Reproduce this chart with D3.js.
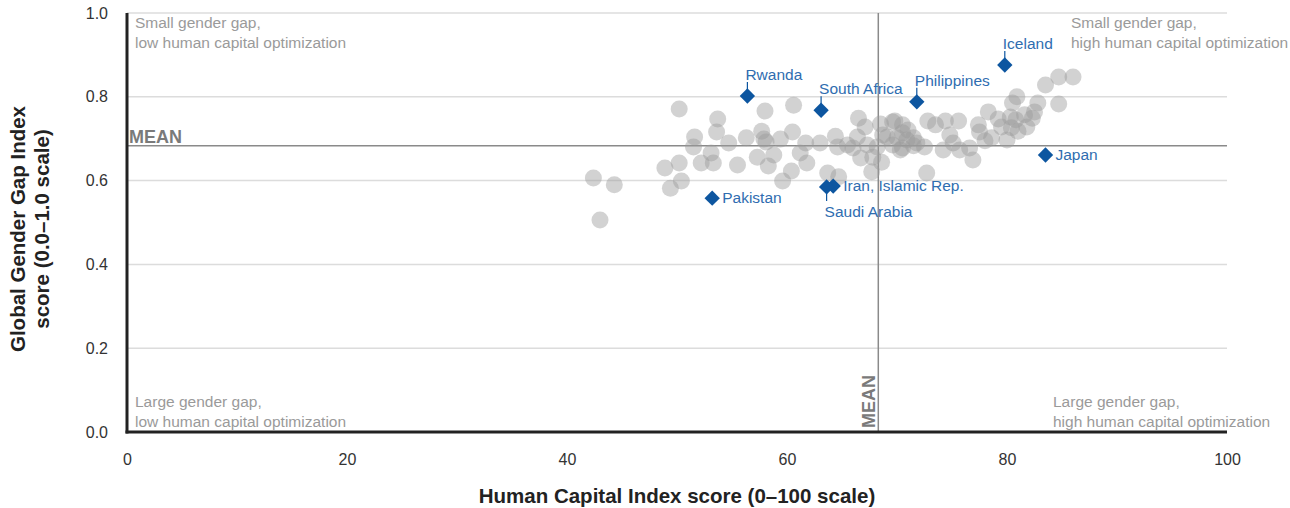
<!DOCTYPE html>
<html lang="en">
<head>
<meta charset="utf-8" />
<title>Human capital vs gender gap</title>
<script src="https://cdn.jsdelivr.net/npm/d3@7"></script>
<style>
  body { margin: 0; background: #fff; }
  svg { font-family: "Liberation Sans", Arial, sans-serif; }
</style>
</head>
<body>
<svg width="1290" height="508"></svg>
<script>
// Human Capital Index score (x) and Global Gender Gap Index score (y) for every country
var hciScores = [42.4, 44.3, 43.0, 50.2, 48.9, 50.2, 49.4, 50.4, 51.6, 51.5,
                 52.2, 53.1, 53.3, 53.7, 53.6, 54.7, 55.5, 56.3, 58.0, 57.7,
                 57.9, 58.1, 57.3, 58.3, 58.8, 59.4, 60.6, 60.5, 60.4, 59.6,
                 61.7, 61.2, 61.8, 63.0, 63.7, 64.7, 64.4, 64.6, 65.5, 66.0,
                 66.5, 66.4, 66.7, 67.1, 67.7, 68.2, 67.8, 68.6, 68.5, 69.6,
                 69.8, 70.5, 71.0, 69.1, 70.0, 70.5, 70.9, 71.5, 70.3, 71.5,
                 72.5, 72.8, 73.5, 74.4, 75.6, 74.8, 75.1, 74.2, 75.7, 76.6,
                 76.9, 77.4, 77.5, 78.0, 78.3, 78.6, 79.2, 79.5, 80.0, 80.3,
                 80.4, 80.9, 80.5, 80.8, 81.0, 81.6, 81.8, 82.3, 82.5, 82.8,
                 83.5, 84.7, 86.0, 84.7, 72.7, 69.6, 68.7, 70.5, 71.8, 67.3];
var gggScores = [0.606, 0.590, 0.506, 0.771, 0.630, 0.642, 0.582, 0.599, 0.704, 0.680,
                 0.642, 0.666, 0.642, 0.747, 0.716, 0.690, 0.637, 0.702, 0.766, 0.718,
                 0.699, 0.692, 0.656, 0.635, 0.661, 0.699, 0.780, 0.716, 0.623, 0.599,
                 0.690, 0.666, 0.642, 0.690, 0.618, 0.609, 0.706, 0.680, 0.685, 0.678,
                 0.749, 0.704, 0.654, 0.728, 0.621, 0.680, 0.656, 0.644, 0.735, 0.740,
                 0.742, 0.733, 0.721, 0.704, 0.702, 0.714, 0.697, 0.702, 0.673, 0.683,
                 0.680, 0.742, 0.733, 0.742, 0.742, 0.709, 0.690, 0.673, 0.673, 0.678,
                 0.649, 0.733, 0.716, 0.695, 0.764, 0.702, 0.747, 0.728, 0.697, 0.752,
                 0.726, 0.800, 0.785, 0.745, 0.718, 0.757, 0.728, 0.749, 0.764, 0.785,
                 0.828, 0.847, 0.847, 0.783, 0.618, 0.685, 0.709, 0.678, 0.690, 0.685];

// highlighted countries
var hlNames = ['Rwanda', 'South Africa', 'Philippines', 'Iceland', 'Japan', 'Pakistan', 'Iran, Islamic Rep.', 'Saudi Arabia'];
var hlHci   = [56.4, 63.1, 71.8, 79.8, 83.5, 53.2, 64.2, 63.6];
var hlGgg   = [0.802, 0.768, 0.788, 0.876, 0.661, 0.558, 0.587, 0.585];
var hlLabelSide = ['top', 'top', 'top', 'top', 'right', 'right', 'right', 'bottom'];

var meanHci = 68.3;
var meanGgg = 0.683;

var xTicks = [0, 20, 40, 60, 80, 100];
var yTicks = [0, 0.2, 0.4, 0.6, 0.8, 1.0];

var quadrantLabels = [
    ['Small gender gap,', 'low human capital optimization'],
    ['Small gender gap,', 'high human capital optimization'],
    ['Large gender gap,', 'low human capital optimization'],
    ['Large gender gap,', 'high human capital optimization']
];

var svg = d3.select('svg');

var x = d3.scaleLinear().domain([0, 100]).range([127, 1227]);
var y = d3.scaleLinear().domain([0, 1]).range([432, 13]);

// gridlines
svg.append('g')
    .selectAll('line')
    .data(yTicks.filter(function(d) { return d > 0; }))
    .enter().append('line')
    .attr('x1', x(0)).attr('x2', x(100))
    .attr('y1', function(d) { return y(d); })
    .attr('y2', function(d) { return y(d); })
    .attr('stroke', '#dcdcdc')
    .attr('stroke-width', 1.5);

// mean lines
svg.append('line')
    .attr('x1', x(0)).attr('x2', x(100))
    .attr('y1', y(meanGgg)).attr('y2', y(meanGgg))
    .attr('stroke', '#8a8a8a').attr('stroke-width', 1.5);
svg.append('line')
    .attr('x1', x(meanHci)).attr('x2', x(meanHci))
    .attr('y1', y(1)).attr('y2', y(0))
    .attr('stroke', '#8a8a8a').attr('stroke-width', 1.5);

svg.append('text')
    .attr('x', x(0) + 2).attr('y', y(meanGgg) - 3)
    .attr('font-size', 18).attr('font-weight', 'bold')
    .attr('fill', '#7a7a7a')
    .text('MEAN');
svg.append('text')
    .attr('transform', 'translate(' + (x(meanHci) - 3) + ',' + (y(0) - 4) + ') rotate(-90)')
    .attr('font-size', 18).attr('font-weight', 'bold')
    .attr('fill', '#7a7a7a')
    .text('MEAN');

// quadrant notes
var qPos = [[x(0) + 8, 28], [1071, 28], [x(0) + 8, 407], [1053, 407]];
quadrantLabels.forEach(function(lines, i) {
    var t = svg.append('text')
        .attr('x', qPos[i][0]).attr('y', qPos[i][1])
        .attr('font-size', 15.5).attr('fill', '#9a9a9a');
    lines.forEach(function(l, j) {
        t.append('tspan').attr('x', qPos[i][0]).attr('dy', j === 0 ? 0 : 19.5).text(l);
    });
});

// gray dots
var dots = hciScores.map(function(v, i) { return [v, gggScores[i]]; });
svg.append('g')
    .selectAll('circle')
    .data(dots)
    .enter().append('circle')
    .attr('cx', function(d) { return x(d[0]); })
    .attr('cy', function(d) { return y(d[1]); })
    .attr('r', 8.5)
    .attr('fill', '#9c9c9c')
    .attr('fill-opacity', 0.45);

// highlighted diamonds
var hl = hlNames.map(function(n, i) {
    return { name: n, x: x(hlHci[i]), y: y(hlGgg[i]), side: hlLabelSide[i] };
});
var diamond = d3.symbol().type(d3.symbolDiamond2).size(150);
var hg = svg.append('g').selectAll('g').data(hl).enter().append('g');

hg.filter(function(d) { return d.side === 'top'; })
    .append('line')
    .attr('x1', function(d) { return d.x; }).attr('x2', function(d) { return d.x; })
    .attr('y1', function(d) { return d.y - 14; }).attr('y2', function(d) { return d.y - 6; })
    .attr('stroke', '#0d56a0').attr('stroke-width', 1.2);
hg.filter(function(d) { return d.side === 'bottom'; })
    .append('line')
    .attr('x1', function(d) { return d.x; }).attr('x2', function(d) { return d.x; })
    .attr('y1', function(d) { return d.y + 6; }).attr('y2', function(d) { return d.y + 14; })
    .attr('stroke', '#0d56a0').attr('stroke-width', 1.2);

hg.append('path')
    .attr('d', diamond)
    .attr('transform', function(d) { return 'translate(' + d.x + ',' + d.y + ')'; })
    .attr('fill', '#0d56a0');

hg.append('text')
    .attr('x', function(d) { return d.side === 'right' ? d.x + 10 : d.x - 2; })
    .attr('y', function(d) {
        if (d.side === 'top') return d.y - 16;
        if (d.side === 'bottom') return d.y + 30;
        return d.y + 5;
    })
    .attr('font-size', 15.5)
    .attr('fill', '#2f6db0')
    .text(function(d) { return d.name; });

// axes
var yAxis = d3.axisLeft(y).tickValues(yTicks).tickSize(0).tickPadding(19).tickFormat(d3.format('.1f'));
var gy = svg.append('g').attr('transform', 'translate(' + x(0) + ',0)').call(yAxis);
gy.select('.domain').remove();
gy.selectAll('text').attr('font-size', 16).attr('fill', '#333').attr('font-family', 'inherit');

var xAxis = d3.axisBottom(x).tickValues(xTicks).tickSize(0).tickPadding(22);
var gx = svg.append('g').attr('transform', 'translate(0,' + y(0) + ')').call(xAxis);
gx.select('.domain').remove();
gx.selectAll('text').attr('font-size', 16).attr('fill', '#333').attr('font-family', 'inherit');

svg.append('line')
    .attr('x1', x(0)).attr('x2', x(0))
    .attr('y1', y(1)).attr('y2', y(0) + 1.5)
    .attr('stroke', '#222').attr('stroke-width', 3);
svg.append('line')
    .attr('x1', x(0) - 1.5).attr('x2', x(100))
    .attr('y1', y(0)).attr('y2', y(0))
    .attr('stroke', '#222').attr('stroke-width', 3);

// axis titles
svg.append('text')
    .attr('x', 677).attr('y', 503)
    .attr('text-anchor', 'middle')
    .attr('font-size', 20.5).attr('font-weight', 'bold').attr('fill', '#222')
    .text('Human Capital Index score (0\u2013100 scale)');

var yt = svg.append('text')
    .attr('transform', 'translate(25,229) rotate(-90)')
    .attr('text-anchor', 'middle')
    .attr('font-size', 20.5).attr('font-weight', 'bold').attr('fill', '#222');
yt.append('tspan').attr('x', 0).attr('dy', 0).text('Global Gender Gap Index');
yt.append('tspan').attr('x', 0).attr('dy', 24).text('score (0.0\u20131.0 scale)');
</script>
</body>
</html>
